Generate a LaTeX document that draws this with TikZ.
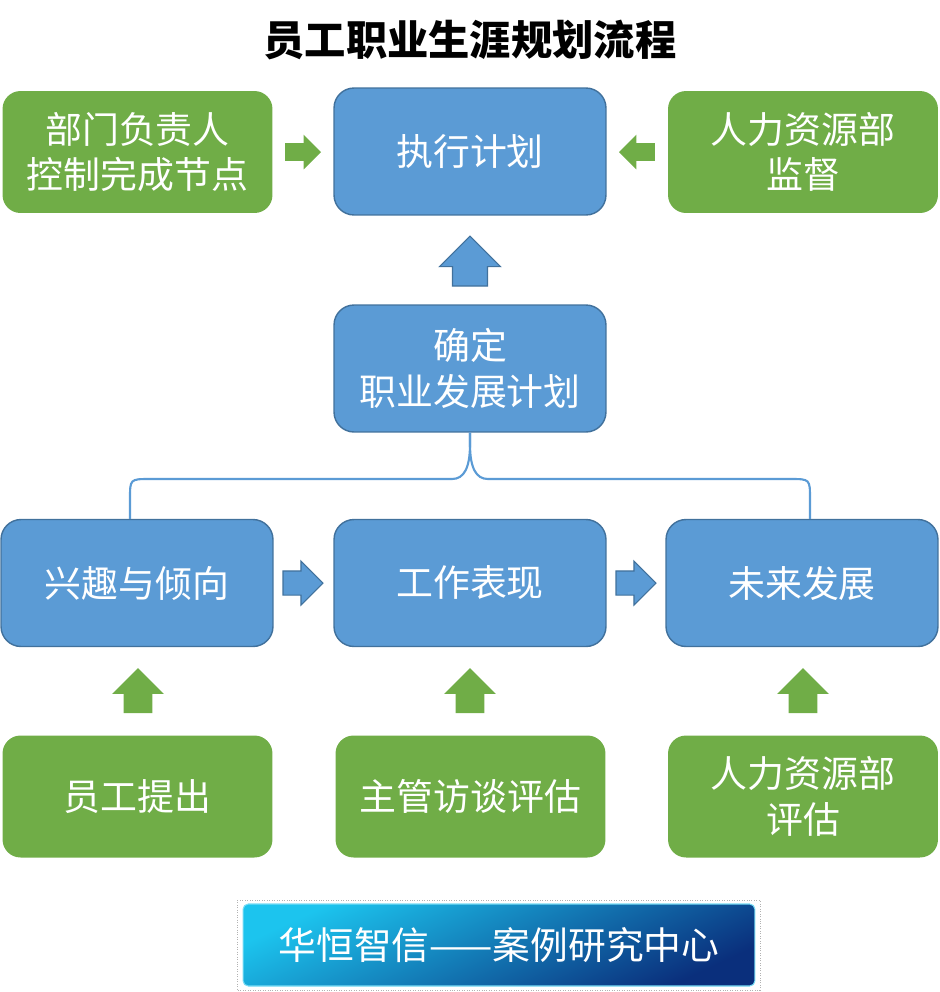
\documentclass[tikz,border=0pt]{standalone}
\usepackage{fontspec}
\setmainfont{Noto Sans CJK SC}
\usetikzlibrary{shapes.arrows}

\definecolor{boxblue}{HTML}{5B9BD5}
\definecolor{boxedge}{HTML}{41719C}
\definecolor{boxgreen}{HTML}{70AD47}
\definecolor{bannertop}{HTML}{1CC4EE}
\definecolor{bannerbot}{HTML}{0A2F7C}

\newcommand{\boxfont}{\fontsize{21}{26}\selectfont}
\newcommand{\shaft}[1]{\rule{0pt}{#1}}

\begin{document}
\begin{tikzpicture}[x=0.02cm, y=-0.02cm,
    bluebox/.style={rectangle, rounded corners=0.4cm, draw=boxedge, line width=0.8pt, fill=boxblue,
      minimum width=5.44cm, minimum height=2.54cm, text=white, align=center, font=\boxfont},
    greenbox/.style={rectangle, rounded corners=0.36cm, fill=boxgreen,
      minimum width=5.4cm, minimum height=2.44cm, text=white, align=center, font=\boxfont},
    blockarrow/.style={single arrow, single arrow tip angle=90, inner sep=0pt, outer sep=0pt,
      minimum width=0pt, anchor=tip},
    bluearrow/.style={blockarrow, fill=boxblue, draw=boxedge, line width=0.6pt},
    greenarrow/.style={blockarrow, fill=boxgreen},
    brace/.style={draw=boxblue, line width=1.2pt}]
        \useasboundingbox (0, 0) rectangle (940, 992);

        % Title
        \node at (470, 40) (title) [font=\fontsize{23.5}{28}\selectfont\bfseries] {员工职业生涯规划流程};

        % Define nodes for the top row
        \node at (137.5, 152) (dept) [greenbox] {部门负责人\\控制完成节点};
        \node at (470, 151.5) (exec) [bluebox] {执行计划};
        \node at (803, 152) (hrsup) [greenbox] {人力资源部\\监督};

        % Define the plan node
        \node at (470, 368.5) (plan) [bluebox] {确定\\职业发展计划};

        % Define nodes for the factors
        \node at (137, 583) (interest) [bluebox] {兴趣与倾向};
        \node at (470, 583) (work) [bluebox] {工作表现};
        \node at (802, 583) (future) [bluebox] {未来发展};

        % Define nodes for the sources
        \node at (137.5, 796.5) (staff) [greenbox] {员工提出};
        \node at (470.5, 796.5) (mgr) [greenbox] {主管访谈评估};
        \node at (803, 796.5) (hreval) [greenbox] {人力资源部\\评估};

        % Draw block arrows
        \node at (321, 152) (a1) [greenarrow, minimum height=0.72cm, single arrow head extend=0.17cm] {\shaft{0.34cm}};
        \node at (619, 152) (a2) [greenarrow, rotate=180, minimum height=0.72cm, single arrow head extend=0.17cm] {\shaft{0.34cm}};
        \node at (470, 236) (a3) [bluearrow, rotate=90, minimum height=1.0cm, single arrow head extend=0.26cm] {\shaft{0.68cm}};
        \node at (323, 583) (a4) [bluearrow, minimum height=0.8cm, single arrow head extend=0.2cm] {\shaft{0.46cm}};
        \node at (656, 583) (a5) [bluearrow, minimum height=0.8cm, single arrow head extend=0.2cm] {\shaft{0.46cm}};
        \node at (138, 668) (a6) [greenarrow, rotate=90, minimum height=0.9cm, single arrow head extend=0.23cm] {\shaft{0.56cm}};
        \node at (470, 668) (a7) [greenarrow, rotate=90, minimum height=0.9cm, single arrow head extend=0.23cm] {\shaft{0.56cm}};
        \node at (803, 668) (a8) [greenarrow, rotate=90, minimum height=0.9cm, single arrow head extend=0.23cm] {\shaft{0.56cm}};

        % Draw the brace from the plan to the factors
        \draw[brace] (plan.south) -- (470, 444) .. controls (470, 468) and (464, 479) .. (452, 479)
            -- (150, 479) .. controls (130, 479) .. (130, 499) -- ([xshift=-0.14cm]interest.north);
        \draw[brace] (plan.south) -- (470, 444) .. controls (470, 468) and (476, 479) .. (488, 479)
            -- (790, 479) .. controls (810, 479) .. (810, 499) -- ([xshift=0.16cm]future.north);

        % Banner
        \draw[gray!60, densely dotted] (237, 900) rectangle (760, 990);
        \node at (499, 945) (banner) [rectangle, rounded corners=3pt, minimum width=10.24cm, minimum height=1.64cm,
            top color=bannertop, bottom color=bannerbot, shading angle=25, draw=bannertop!60!white, line width=0.6pt,
            text=white, font=\fontsize{21.5}{26}\selectfont] {华恒智信——案例研究中心};
\end{tikzpicture}
\end{document}
